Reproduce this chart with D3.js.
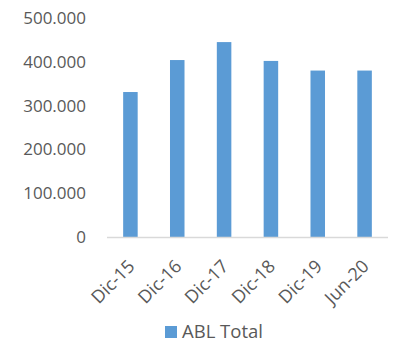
<!DOCTYPE html>
<html><head><meta charset="utf-8">
<script src="https://cdn.jsdelivr.net/npm/d3@7"></script>
<style>body{margin:0;background:#fff}svg{display:block}text{font-family:"Open Sans",sans-serif;fill:#595959}</style>
</head><body>
<svg id="c" width="396" height="343"></svg>
<script>
const categories = ["Dic-15","Dic-16","Dic-17","Dic-18","Dic-19","Jun-20"];
const values = [331000, 404000, 445000, 402000, 380000, 380000];
const yTicks = [0, 100000, 200000, 300000, 400000, 500000];
const seriesName = "ABL Total";

const svg = d3.select("#c");
const x = d3.scaleBand().domain(categories).range([107, 388]).padding(0);
const y = d3.scaleLinear().domain([0, 500000]).range([237, 18]);
const fmt = v => v === 0 ? "0" : d3.format(",.0f")(v / 1000).replace(",", ".") + ".000";
const color = "#5b9bd5";

svg.append("g").selectAll("text").data(yTicks).join("text")
  .attr("x", 86).attr("y", d => y(d)).attr("dy", "0.35em")
  .attr("text-anchor", "end").style("font-size", "17px").text(fmt);

const bw = x.bandwidth() * 0.31;
svg.append("g").selectAll("rect").data(values).join("rect")
  .attr("x", (d, i) => x(categories[i]) + x.bandwidth() / 2 - bw / 2)
  .attr("y", d => y(d)).attr("width", bw).attr("height", d => y(0) - y(d))
  .attr("fill", color);

svg.append("line").attr("x1", 107).attr("x2", 388).attr("y1", y(0) + 0.5).attr("y2", y(0) + 0.5)
  .attr("stroke", "#d9d9d9").attr("stroke-width", 1.5);

svg.append("g").selectAll("text").data(categories).join("text")
  .attr("transform", d => `translate(${x(d) + x.bandwidth() / 2 + 1},${y(0) + 26}) rotate(-45)`)
  .attr("text-anchor", "end").attr("dy", "0.35em").style("font-size", "18px").text(d => d);

const lg = svg.append("g");
lg.append("rect").attr("x", 165).attr("y", 326).attr("width", 12).attr("height", 12).attr("fill", color);
lg.append("text").attr("x", 182).attr("y", 338).style("font-size", "18.5px").text(seriesName);
</script>
</body></html>
